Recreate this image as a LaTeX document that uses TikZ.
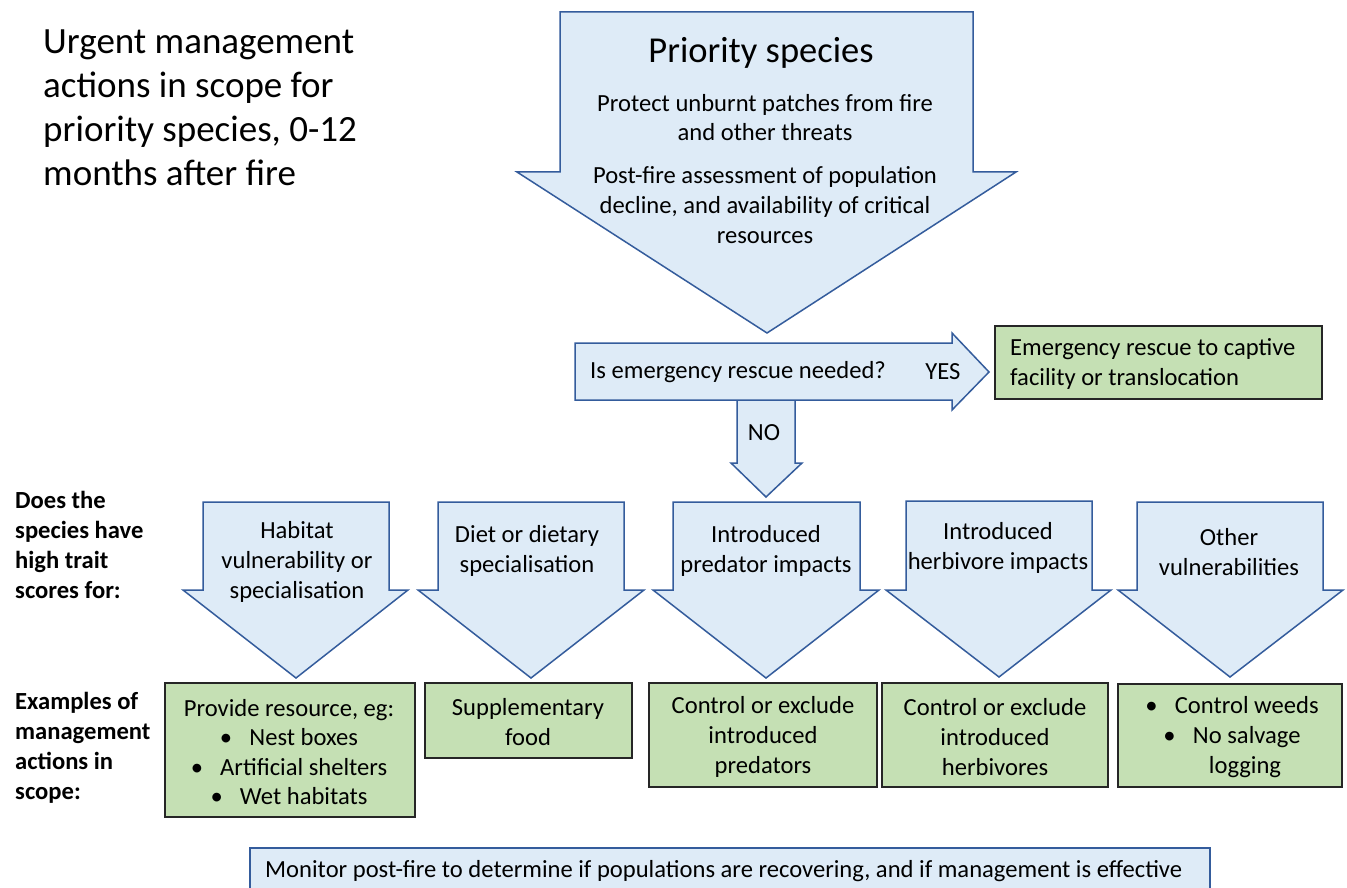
\documentclass[tikz,border=0pt]{standalone}
\usepackage{fontspec}
\setmainfont{Carlito}
\definecolor{bfill}{RGB}{222,235,247}
\definecolor{bline}{RGB}{52,92,156}
\definecolor{gfill}{RGB}{197,224,180}
\tikzset{
  blockarrow/.style={draw=bline, fill=bfill, line width=1.5pt, line join=miter},
  greenbox/.style={draw=black!85, fill=gfill, line width=1.8pt},
  bluebox/.style={draw=bline, fill=bfill, line width=1.5pt},
  txt/.style={inner sep=0pt, align=center, font=\fontsize{24.6}{29.6}\selectfont},
  ltxt/.style={inner sep=0pt, align=left, font=\fontsize{24.6}{29.6}\selectfont},
  bigtxt/.style={inner sep=0pt, align=left, font=\fontsize{37}{44}\selectfont},
  sidetxt/.style={inner sep=0pt, align=left, anchor=north west, font=\fontsize{24.6}{30}\selectfont\bfseries},
}
\newcommand{\bul}{\textbullet\hspace{0.7em}}
\begin{document}
\begin{tikzpicture}[x=1pt,y=-1pt]
\useasboundingbox (0,0) rectangle (1347,888);
\fill[white] (0,0) rectangle (1347,888);

% title
\node[bigtxt, anchor=north west] (title) at (43,30) {Urgent management\\actions in scope for\\priority species, 0-12\\months after fire};

% top big arrow
\draw[blockarrow] (560,12) -- (973,12) -- (973,172) -- (1016,172) -- (767,333) -- (517,172) -- (560,172) -- cycle;
\node[txt, font=\fontsize{36.5}{44}\selectfont] (prio) at (761,53) {Priority species};
\node[txt] (protect) at (765,117.5) {Protect unburnt patches from fire\\and other threats};
\node[txt] (assess) at (765,205) {Post-fire assessment of population\\decline, and availability of critical\\resources};

% NO arrow (drawn first, under the horizontal arrow)
\draw[blockarrow] (737,400) -- (795,400) -- (795,463) -- (802,463) -- (766,497) -- (731,463) -- (737,463) -- cycle;
\node[txt] (no) at (764,433) {NO};

% horizontal arrow
\draw[blockarrow] (575,343) -- (952,343) -- (952,333) -- (989,372) -- (952,410) -- (952,400) -- (575,400) -- cycle;
\node[txt] (question) at (738,372) {Is emergency rescue needed?};
\node[txt] (yes) at (943,372) {YES};

% emergency box
\node[greenbox, minimum width=327pt, minimum height=73pt, anchor=north west, inner sep=0pt] (emerg) at (994,325) {};
\node[ltxt, anchor=west] (emergt) at (1010,364) {Emergency rescue to captive\\facility or translocation};

% side labels
\node[sidetxt] (does) at (15,491) {Does the\\species have\\high trait\\scores for:};
\node[sidetxt] (examples) at (15,692) {Examples of\\management\\actions in\\scope:};

% five down arrows
\draw[blockarrow] (203,502) -- (389,502) -- (389,590) -- (408,590) -- (296,678) -- (183,590) -- (203,590) -- cycle;
\draw[blockarrow] (438,502) -- (624,502) -- (624,590) -- (644,590) -- (531,678) -- (418,590) -- (438,590) -- cycle;
\draw[blockarrow] (673,502) -- (860,502) -- (860,590) -- (879,590) -- (766,678) -- (653,590) -- (673,590) -- cycle;
\draw[blockarrow] (906,501) -- (1092,501) -- (1092,590) -- (1111,590) -- (999,677) -- (886,590) -- (906,590) -- cycle;
\draw[blockarrow] (1137,502) -- (1323,502) -- (1323,590) -- (1343,590) -- (1230,677) -- (1118,590) -- (1137,590) -- cycle;

\node[txt] (a1) at (297,562) {Habitat\\vulnerability or\\specialisation};
\node[txt] (a2) at (527,551) {Diet or dietary\\specialisation};
\node[txt] (a3) at (766,551) {Introduced\\predator impacts};
\node[txt] (a4) at (998,548) {Introduced\\herbivore impacts};
\node[txt] (a5) at (1229,552) {Other\\vulnerabilities};

% green action boxes
\draw[greenbox] (165,683) rectangle (415,817);
\draw[greenbox] (425,683) rectangle (632,758);
\draw[greenbox] (649,683) rectangle (877,787);
\draw[greenbox] (882,683) rectangle (1108,787);
\draw[greenbox] (1118,684) rectangle (1342,787);

\node[txt] (b1) at (289,752) {Provide resource, eg:\\\bul Nest boxes\\\bul Artificial shelters\\\bul Wet habitats};
\node[txt] (b2) at (528,722) {Supplementary\\food};
\node[txt] (b3) at (763,737) {Control or exclude\\introduced\\predators};
\node[txt] (b4) at (995,737) {Control or exclude\\introduced\\herbivores};
\node[txt] (b5) at (1232,737) {\bul Control weeds\\\bul No salvage\\\hspace*{26pt}logging};

% bottom monitor box
\draw[bluebox] (250,848) rectangle (1210,900);
\node[ltxt, anchor=west] (monitor) at (265,871) {Monitor post-fire to determine if populations are recovering, and if management is effective};
\end{tikzpicture}
\end{document}
